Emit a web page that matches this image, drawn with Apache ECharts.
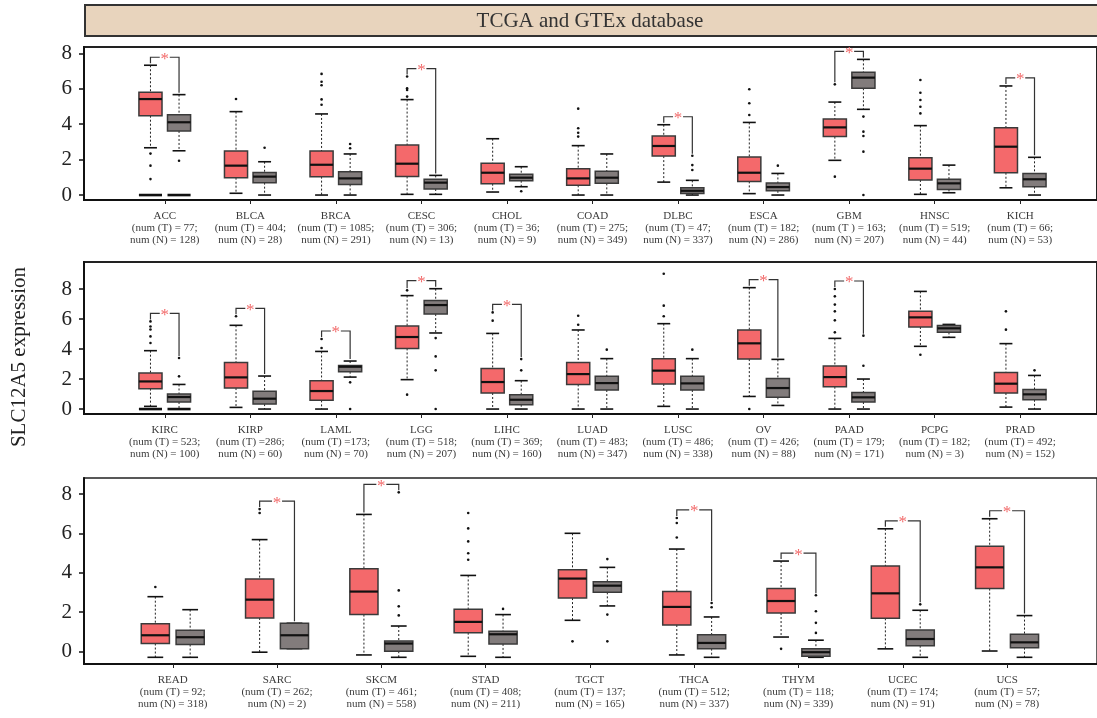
<!DOCTYPE html>
<html>
<head>
<meta charset="utf-8">
<title>SLC12A5 expression - TCGA and GTEx</title>
<script src="https://cdn.jsdelivr.net/npm/echarts@6.0.0/dist/echarts.min.js"></script>
<style>
  html, body { margin: 0; padding: 0; background: #fff; }
  #chart { width: 1097px; height: 718px; }
</style>
</head>
<body>
<div id="chart"></div>
<script>
// box stats are [min, q1, median, q3, max]; outliers are [category index, 0 = tumor / 1 = normal, value]

// --- top row ---
const cats1 = ['ACC', 'BLCA', 'BRCA', 'CESC', 'CHOL', 'COAD', 'DLBC', 'ESCA', 'GBM', 'HNSC', 'KICH'];
const numT1 = [77, 404, 1085, 306, 36, 275, 47, 182, 163, 519, 66];
const numN1 = [128, 28, 291, 13, 9, 349, 337, 286, 207, 44, 53];
const tumor1 = [
  [2.67, 4.48, 5.42, 5.80, 7.33], [0.10, 0.98, 1.66, 2.49, 4.71], [0.00, 1.04, 1.71, 2.49, 4.58],
  [0.04, 1.05, 1.77, 2.82, 5.39], [0.17, 0.64, 1.26, 1.79, 3.18], [0.00, 0.55, 0.94, 1.49, 2.79],
  [0.73, 2.20, 2.77, 3.33, 3.97], [0.08, 0.77, 1.26, 2.15, 4.10], [1.96, 3.30, 3.82, 4.29, 5.25],
  [0.04, 0.85, 1.49, 2.11, 3.92], [0.41, 1.26, 2.73, 3.80, 6.16]
];
const normal1 = [
  [2.50, 3.62, 4.11, 4.54, 5.67], [0.00, 0.70, 1.04, 1.28, 1.88], [0.00, 0.60, 0.94, 1.32, 2.32],
  [0.04, 0.34, 0.70, 0.89, 1.11], [0.47, 0.81, 0.98, 1.17, 1.60], [0.00, 0.66, 0.98, 1.34, 2.32],
  [0.00, 0.09, 0.24, 0.41, 0.83], [0.00, 0.24, 0.45, 0.68, 1.22], [4.84, 6.03, 6.63, 6.93, 7.66],
  [0.13, 0.32, 0.66, 0.89, 1.69], [0.00, 0.47, 0.89, 1.21, 2.13]
];
const outliers1 = [
  [0, 0, 2.34], [0, 0, 1.66], [0, 0, 0.90], [0, 1, 1.94],
  [1, 0, 5.42], [1, 1, 2.67],
  [2, 0, 6.84], [2, 0, 6.40], [2, 0, 6.20], [2, 0, 5.40], [2, 0, 5.10], [2, 1, 2.88], [2, 1, 2.64],
  [3, 0, 6.69], [3, 0, 6.03], [3, 0, 5.93], [3, 0, 5.56],
  [4, 1, 0.21],
  [5, 0, 4.88], [5, 0, 3.77], [5, 0, 3.52], [5, 0, 3.30],
  [6, 1, 2.22], [6, 1, 1.69], [6, 1, 1.41],
  [7, 0, 5.97], [7, 0, 5.18], [7, 0, 4.52], [7, 1, 1.66],
  [8, 0, 6.25], [8, 0, 1.04], [8, 1, 4.43], [8, 1, 3.58], [8, 1, 3.33], [8, 1, 2.45], [8, 1, 0.00],
  [9, 0, 6.50], [9, 0, 5.78], [9, 0, 5.37], [9, 0, 4.99], [9, 0, 4.61]
];
const zeroRuns1 = [[0, 0, 0], [0, 1, 0]];
const signif1 = ['ACC', 'CESC', 'DLBC', 'GBM', 'KICH'];

// --- middle row ---
const cats2 = ['KIRC', 'KIRP', 'LAML', 'LGG', 'LIHC', 'LUAD', 'LUSC', 'OV', 'PAAD', 'PCPG', 'PRAD'];
const numT2 = [523, 286, 173, 518, 369, 483, 486, 426, 179, 182, 492];
const numN2 = [100, 60, 70, 207, 160, 347, 338, 88, 171, 3, 152];
const tumor2 = [
  [0.18, 1.36, 1.84, 2.40, 3.89], [0.11, 1.40, 2.11, 3.11, 5.58], [0.00, 0.58, 1.20, 1.89, 3.84],
  [1.96, 4.04, 4.80, 5.53, 7.56], [0.00, 1.07, 1.80, 2.71, 5.04], [0.00, 1.64, 2.33, 3.11, 5.27],
  [0.18, 1.67, 2.56, 3.36, 5.69], [0.84, 3.33, 4.38, 5.27, 8.09], [0.00, 1.49, 2.13, 2.87, 4.71],
  [4.18, 5.47, 6.11, 6.51, 7.84], [0.13, 1.07, 1.69, 2.44, 4.36]
];
const normal2 = [
  [0.00, 0.47, 0.80, 1.00, 1.64], [0.00, 0.33, 0.69, 1.18, 2.20], [2.13, 2.49, 2.82, 2.91, 3.20],
  [5.07, 6.33, 6.93, 7.24, 8.02], [0.00, 0.29, 0.62, 0.96, 1.89], [0.00, 1.27, 1.73, 2.18, 3.36],
  [0.00, 1.27, 1.71, 2.18, 3.36], [0.24, 0.78, 1.40, 2.04, 3.31], [0.00, 0.47, 0.78, 1.11, 2.00],
  [4.78, 5.11, 5.38, 5.56, 5.64], [0.00, 0.62, 0.98, 1.31, 2.24]
];
const outliers2 = [
  [0, 0, 5.84], [0, 0, 5.50], [0, 0, 5.30], [0, 0, 4.84], [0, 0, 4.40], [0, 1, 3.40], [0, 1, 2.18],
  [1, 0, 6.18],
  [2, 0, 4.67], [2, 0, 4.07], [2, 1, 1.78], [2, 1, 0.00],
  [3, 0, 7.91], [3, 0, 0.96], [3, 1, 4.73], [3, 1, 3.51], [3, 1, 2.58], [3, 1, 0.00],
  [4, 0, 6.44], [4, 0, 5.89], [4, 1, 3.33], [4, 1, 2.58],
  [5, 0, 6.22], [5, 0, 5.62], [5, 1, 3.96],
  [6, 0, 9.02], [6, 0, 6.89], [6, 0, 6.18], [6, 1, 3.96],
  [7, 0, 0.00],
  [8, 0, 8.00], [8, 0, 7.51], [8, 0, 6.96], [8, 0, 6.51], [8, 0, 5.91], [8, 0, 5.11], [8, 1, 4.89], [8, 1, 2.89],
  [9, 0, 3.62],
  [10, 0, 6.51], [10, 0, 5.29], [10, 1, 2.58]
];
const zeroRuns2 = [[0, 0, 0], [0, 1, 0]];
const signif2 = ['KIRC', 'KIRP', 'LAML', 'LGG', 'LIHC', 'OV', 'PAAD'];

// --- bottom row ---
const cats3 = ['READ', 'SARC', 'SKCM', 'STAD', 'TGCT', 'THCA', 'THYM', 'UCEC', 'UCS'];
const numT3 = [92, 262, 461, 408, 137, 512, 118, 174, 57];
const numN3 = [318, 2, 558, 211, 165, 337, 339, 91, 78];
const tumor3 = [
  [-0.29, 0.41, 0.83, 1.42, 2.79], [-0.03, 1.71, 2.64, 3.69, 5.69], [-0.17, 1.88, 3.05, 4.21, 6.97],
  [-0.24, 0.96, 1.51, 2.15, 3.87], [1.59, 2.72, 3.71, 4.16, 6.01], [-0.17, 1.35, 2.27, 3.05, 5.21],
  [0.74, 1.96, 2.57, 3.20, 4.60], [0.14, 1.69, 2.96, 4.35, 6.24], [0.03, 3.20, 4.28, 5.35, 6.75]
];
const normal3 = [
  [-0.29, 0.36, 0.73, 1.08, 2.13], [0.15, 0.15, 0.83, 1.44, 1.44], [-0.29, 0.02, 0.41, 0.54, 1.30],
  [-0.29, 0.39, 0.88, 1.03, 1.88], [2.32, 3.01, 3.35, 3.55, 4.28], [-0.29, 0.15, 0.44, 0.86, 1.76],
  [-0.29, -0.24, -0.03, 0.14, 0.58], [-0.29, 0.30, 0.64, 1.10, 2.10], [-0.29, 0.20, 0.47, 0.88, 1.83]
];
const outliers3 = [
  [0, 0, 3.28],
  [1, 0, 7.24], [1, 0, 7.04],
  [2, 1, 8.09], [2, 1, 3.11], [2, 1, 2.30], [2, 1, 1.84],
  [3, 0, 7.04], [3, 0, 6.26], [3, 0, 5.60], [3, 0, 5.00], [3, 0, 4.67], [3, 1, 2.17],
  [4, 0, 0.52], [4, 1, 4.70], [4, 1, 1.88], [4, 1, 0.52],
  [5, 0, 6.79], [5, 0, 6.53], [5, 0, 5.80], [5, 1, 2.47], [5, 1, 2.25],
  [6, 0, 0.14], [6, 1, 2.86], [6, 1, 2.05], [6, 1, 1.46], [6, 1, 0.95],
  [7, 1, 2.40]
];
const zeroRuns3 = [];
const signif3 = ['SARC', 'SKCM', 'THCA', 'THYM', 'UCEC', 'UCS'];

const yTicks = [0, 2, 4, 6, 8];

// look
const TUMOR_COLOR = '#f4696b';
const NORMAL_COLOR = '#827c7c';
const STAR_COLOR = '#f26a6a';
const SERIF = '"Liberation Serif", "DejaVu Serif", serif';
const OFF = 0.167;     // half distance between the tumor and normal box, in category units
const BOX_W = 0.27;    // box width, in category units

// odd spacing in the original labels
const tPrefix = { KIRP: '(num (T) =', LAML: '(num (T) =', GBM: '(num (T ) = ' };

const panels = [
  { cats: cats1, nT: numT1, nN: numN1, tumor: tumor1, normal: normal1, out: outliers1, zero: zeroRuns1, sig: signif1,
    top: 47, height: 153, yMin: -0.28, yMax: 8.36, xMin: -0.944, step: 85.8, border: 2 },
  { cats: cats2, nT: numT2, nN: numN2, tumor: tumor2, normal: normal2, out: outliers2, zero: zeroRuns2, sig: signif2,
    top: 262, height: 152, yMin: -0.33, yMax: 9.8, xMin: -0.944, step: 85.8, border: 2 },
  { cats: cats3, nT: numT3, nN: numN3, tumor: tumor3, normal: normal3, out: outliers3, zero: zeroRuns3, sig: signif3,
    top: 478, height: 186, yMin: -0.63, yMax: 8.82, xMin: -0.851, step: 104.6, border: 1.4 }
];

const GRID_LEFT = 84;
const GRID_WIDTH = 1016;

function renderBox(params, api) {
  const cat = api.value(0), g = api.value(1);
  const x = cat + (g === 0 ? -OFF : OFF);
  const p = [2, 3, 4, 5, 6].map(d => api.coord([x, api.value(d)]));
  const cx = p[0][0];
  const w = api.size([BOX_W, 0])[0];
  const half = w / 2, cap = w * 0.28;
  const dash = { stroke: '#222', lineWidth: 1, lineDash: [2, 2] };
  const solid = { stroke: '#111', lineWidth: 1.6 };
  return {
    type: 'group',
    children: [
      { type: 'line', shape: { x1: cx, y1: p[4][1], x2: cx, y2: p[3][1] }, style: dash },
      { type: 'line', shape: { x1: cx, y1: p[1][1], x2: cx, y2: p[0][1] }, style: dash },
      { type: 'line', shape: { x1: cx - cap, y1: p[4][1], x2: cx + cap, y2: p[4][1] }, style: solid },
      { type: 'line', shape: { x1: cx - cap, y1: p[0][1], x2: cx + cap, y2: p[0][1] }, style: solid },
      { type: 'rect', shape: { x: cx - half, y: p[3][1], width: w, height: Math.max(p[1][1] - p[3][1], 1) },
        style: { fill: g === 0 ? TUMOR_COLOR : NORMAL_COLOR, stroke: '#3a3a3a', lineWidth: 1.5 } },
      { type: 'line', shape: { x1: cx - half, y1: p[2][1], x2: cx + half, y2: p[2][1] },
        style: { stroke: '#111', lineWidth: 2.2 } }
    ]
  };
}

function renderZeroRun(params, api) {
  const x = api.value(0) + (api.value(1) === 0 ? -OFF : OFF);
  const c = api.coord([x, api.value(2)]);
  const half = api.size([BOX_W, 0])[0] / 2;
  return { type: 'line', shape: { x1: c[0] - half, y1: c[1], x2: c[0] + half, y2: c[1] },
    style: { stroke: '#111', lineWidth: 2.6 } };
}

function renderBracket(params, api) {
  const cat = api.value(0);
  const l = api.coord([cat - OFF, api.value(1)]);
  const r = api.coord([cat + OFF, api.value(2)]);
  const topY = Math.min(l[1], r[1]) - 8;
  const mid = (l[0] + r[0]) / 2;
  const st = { stroke: '#333', lineWidth: 1.2, fill: null };
  return {
    type: 'group',
    children: [
      { type: 'polyline', shape: { points: [[l[0], l[1] - 2], [l[0], topY], [mid - 5, topY]] }, style: st },
      { type: 'polyline', shape: { points: [[mid + 5, topY], [r[0], topY], [r[0], r[1] - 2]] }, style: st },
      { type: 'text', style: { text: '*', x: mid, y: topY + 2, align: 'center', verticalAlign: 'middle',
        font: '17px ' + SERIF, fill: STAR_COLOR } }
    ]
  };
}

function groupMax(pn, i, g) {
  let m = (g === 0 ? pn.tumor : pn.normal)[i][4];
  pn.out.forEach(o => { if (o[0] === i && o[1] === g) m = Math.max(m, o[2]); });
  return m;
}

async function drawVisualisation() {
  const chart = echarts.init(document.getElementById('chart'));
  window.onresize = () => chart.resize();

  const grids = [], xAxes = [], yAxes = [], series = [];

  panels.forEach((pn, k) => {
    const idx = pn.cats.map((c, i) => i);
    grids.push({
      left: GRID_LEFT, top: pn.top, width: GRID_WIDTH, height: pn.height,
      show: true, borderColor: '#222', borderWidth: pn.border, backgroundColor: 'transparent'
    });
    xAxes.push({
      gridIndex: k, type: 'value',
      min: pn.xMin, max: pn.xMin + GRID_WIDTH / pn.step,
      splitLine: { show: false },
      axisLine: { show: true, onZero: false, lineStyle: { color: '#111', width: 2 } },
      axisTick: { show: true, customValues: idx, length: 4, lineStyle: { color: '#222' } },
      axisLabel: {
        customValues: idx, margin: 10, color: '#3a3a3a', fontSize: 11, lineHeight: 12,
        fontFamily: SERIF, hideOverlap: false,
        formatter: v => {
          const i = Math.round(v), c = pn.cats[i];
          return c + '\n' + (tPrefix[c] || '(num (T) = ') + pn.nT[i] + ';\nnum (N) = ' + pn.nN[i] + ')';
        }
      }
    });
    yAxes.push({
      gridIndex: k, type: 'value', min: pn.yMin, max: pn.yMax,
      splitLine: { show: false },
      axisLine: { show: true, onZero: false, lineStyle: { color: '#111', width: 2 } },
      axisTick: { show: true, customValues: yTicks, length: 5, lineStyle: { color: '#111', width: 1.5 } },
      axisLabel: { customValues: yTicks, margin: 12, fontSize: 21, color: '#222', fontFamily: SERIF }
    });

    const boxes = [];
    idx.forEach(i => {
      boxes.push([i, 0].concat(pn.tumor[i]));
      boxes.push([i, 1].concat(pn.normal[i]));
    });
    series.push({
      type: 'custom', xAxisIndex: k, yAxisIndex: k, renderItem: renderBox, clip: false,
      encode: { x: 0, y: [2, 3, 4, 5, 6] }, data: boxes, silent: true
    });
    series.push({
      type: 'custom', xAxisIndex: k, yAxisIndex: k, renderItem: renderZeroRun, clip: false,
      encode: { x: 0, y: 2 }, data: pn.zero, silent: true
    });
    series.push({
      type: 'scatter', xAxisIndex: k, yAxisIndex: k, symbolSize: 2.6, silent: true,
      itemStyle: { color: '#111', opacity: 1 },
      data: pn.out.map(o => [o[0] + (o[1] === 0 ? -OFF : OFF), o[2]])
    });
    series.push({
      type: 'custom', xAxisIndex: k, yAxisIndex: k, renderItem: renderBracket, clip: false,
      encode: { x: 0, y: [1, 2] }, silent: true,
      data: pn.sig.map(c => {
        const i = pn.cats.indexOf(c);
        return [i, groupMax(pn, i, 0) , groupMax(pn, i, 1)];
      })
    });
  });

  const option = {
    animation: false,
    backgroundColor: '#fff',
    textStyle: { fontFamily: SERIF },
    graphic: [
      { type: 'rect', z: 10, shape: { x: 85, y: 5, width: 1030, height: 31 },
        style: { fill: '#e8d4bd', stroke: '#333', lineWidth: 2 } },
      { type: 'text', z: 11, x: 590, y: 21,
        style: { text: 'TCGA and GTEx database', align: 'center', verticalAlign: 'middle',
          font: '21px ' + SERIF, fill: '#333' } },
      { type: 'text', z: 11, x: 19, y: 357, rotation: Math.PI / 2,
        style: { text: 'SLC12A5 expression', align: 'center', verticalAlign: 'middle',
          font: '21px ' + SERIF, fill: '#222' } }
    ],
    grid: grids,
    xAxis: xAxes,
    yAxis: yAxes,
    series: series
  };

  chart.setOption(option);
}

window.addEventListener('load', drawVisualisation);
</script>
</body>
</html>
